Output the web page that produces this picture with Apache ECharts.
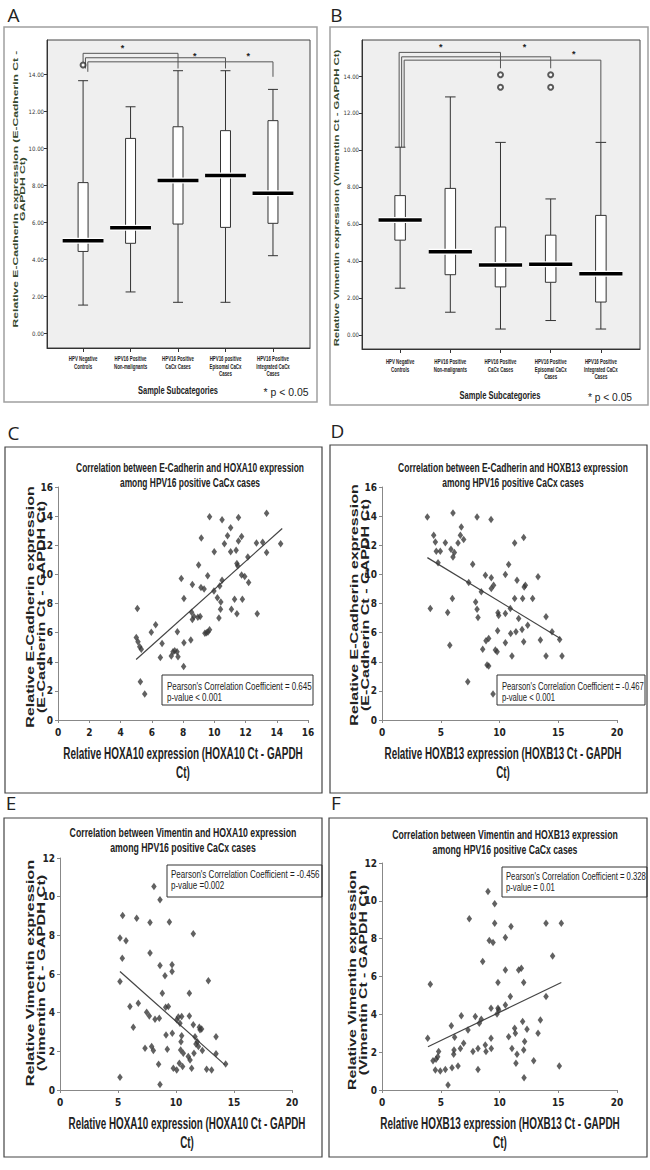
<!DOCTYPE html>
<html><head><meta charset="utf-8">
<script src="https://cdn.jsdelivr.net/npm/echarts@6/dist/echarts.min.js"></script>
<style>html,body{margin:0;padding:0;background:#fff}#c{width:650px;height:1170px}</style>
</head><body><div id="c"></div>
<script>
// ---------------- DATA ----------------
const catsA = ['HPV Negative\nControls','HPV16 Positive\nNon-malignants','HPV16 Positive\nCaCx Cases','HPV16 positive\nEpisomal CaCx\nCases','HPV16 Positive\nIntegrated CaCx\nCases'];
const catsB = ['HPV Negative\nControls','HPV16 Positive\nNon-malignants','HPV16 Positive\nCaCx Cases','HPV16 Positive\nEpisomal CaCx\nCases','HPV16 Positive\nIntegrated CaCx\nCases'];
const boxTicks = [0,2,4,6,8,10,12,14];
const catTicks = [0,1,2,3,4];
// [min, q1, median, q3, max]
const boxStatsA = [[1.51,4.41,4.99,8.13,13.64],[2.22,4.85,5.69,10.52,12.23],[1.66,5.89,8.25,11.15,14.18],[1.66,5.71,8.52,10.94,14.18],[4.18,5.93,7.55,11.48,13.17]];
const outliersA = [[0,14.49]];
const boxStatsB = [[2.52,5.12,6.21,7.53,10.15],[1.22,3.25,4.49,7.92,12.87],[0.31,2.59,3.78,5.83,10.41],[0.77,2.84,3.82,5.39,7.35],[0.31,1.77,3.30,6.46,10.41]];
const outliersB = [[2,14.07],[2,13.39],[3,14.07],[3,13.39]];
// significance brackets: [xLeft, xRight, level, leftEnd, rightEnd]
const bracketsA = [[0,2,15.12,14.64,14.3],[0.05,3,14.88,14.3,14.3],[0.1,4,14.66,14.12,13.85]];
const starsA = [[0.83,15.39],[2.35,14.99],[3.48,14.99]];
const bracketsB = [[-0.02,2,15.28,10.15,14.42],[0.03,3,15.04,10.15,14.42],[0.08,4,14.86,10.15,10.41]];
const starsB = [[0.81,15.58],[2.48,15.58],[3.46,15.19]];

const scatterC = [[5.08,7.66],[5.01,5.67],[5.12,5.37],[5.23,5.03],[5.33,4.85],[5.27,2.63],[5.55,1.78],
 [5.97,6.03],[6.25,6.54],[6.66,5.26],[6.55,4.30],
 [7.25,4.39],[7.36,4.69],[7.47,4.75],[7.62,4.69],[7.68,4.34],[7.64,6.06],
 [7.89,9.71],[8.06,8.35],[8.06,5.3],[8.04,3.68],
 [8.5,5.5],[8.55,7.4],[8.6,9.3],[8.6,6.9],[8.7,7.1],[8.95,7.05],[9.1,7.1],
 [9.0,10.65],[9.17,12.5],[9.15,9.1],[9.35,9.0],
 [9.4,5.95],[9.5,6.0],[9.6,6.05],[9.7,6.2],[9.58,9.9],[9.7,13.95],
 [9.98,8.85],[10.0,11.55],[10.2,8.4],[10.3,7.0],[10.35,9.2],[10.4,7.6],[10.42,8.1],[10.5,9.6],[10.5,13.75],[10.65,12.1],
 [10.85,12.65],[11.05,13.2],[11.05,11.55],[11.1,7.6],[11.3,8.3],
 [11.4,11.65],[11.45,10.75],[11.5,10.6],[11.45,7.3],[11.55,13.9],[11.55,12.3],[11.75,12.6],[11.75,9.95],[11.8,8.3],[11.95,9.85],[12.15,11.2],[12.2,9.45],
 [12.7,12.15],[12.75,7.3],[13.1,12.2],[13.35,14.2],[13.35,11.5],[14.25,12.1]];
const trendC = [[5.0,4.15],[14.35,13.15]];

const scatterD = [[3.86,13.94],[4.11,7.66],[4.40,12.69],[4.54,12.23],[4.62,11.59],[4.77,10.79],[4.96,11.59],
 [5.39,12.18],[5.59,7.38],[5.77,5.14],[5.87,11.73],[5.99,8.34],[6.04,14.22],[6.04,11.2],[6.16,11.5],
 [6.47,12.16],[6.67,12.69],[6.75,13.26],[6.95,12.39],[7.38,9.44],[7.3,2.63],
 [7.72,10.7],[7.97,8.11],[8.09,7.61],[8.17,7.04],[8.09,13.94],[8.45,8.8],[8.57,4.85],[8.8,9.94],[8.85,5.44],
 [8.94,3.77],[9.08,3.7],[9.08,5.6],[9.28,13.76],[9.3,9.76],[9.3,9.03],[9.5,9.26],[9.45,1.78],
 [9.65,4.8],[9.8,4.69],[9.84,6.13],[9.87,7.36],[9.93,7.18],
 [10.5,10.0],[10.5,7.31],[10.5,5.3],[10.78,10.67],[10.92,7.66],[10.95,5.94],[11.06,4.39],
 [11.29,12.16],[11.29,8.34],[11.4,6.06],[11.49,9.6],[11.63,6.97],[11.92,6.22],[11.97,8.34],
 [12.06,12.53],[12.06,5.37],[12.1,9.14],[12.2,9.26],[12.4,6.51],[12.82,8.34],[13.28,9.83],
 [13.48,5.49],[13.96,7.09],[13.96,4.39],[14.47,6.06],[15.12,5.53],[15.32,4.39]];
const trendD = [[3.86,11.15],[15.18,5.6]];

const scatterE = [[5.17,0.66],[5.17,5.61],[5.17,7.86],[5.37,6.82],[5.40,9.03],[5.69,7.72],[6.03,4.32],[6.32,3.25],
 [6.61,8.89],[6.75,4.49],[7.33,2.16],[7.47,4.02],[7.70,3.83],[7.76,7.08],[7.76,8.67],[7.90,2.25],[8.05,2.04],
 [8.10,10.53],[8.19,3.66],[8.5,1.33],[8.56,3.71],[8.62,6.44],[8.62,0.29],[8.62,9.84],[8.82,5.01],[9.05,5.91],
 [9.11,4.28],[9.14,2.85],[9.25,2.11],[9.34,4.32],[9.43,8.69],[9.66,6.48],[9.66,6.13],[9.68,2.94],[9.77,1.12],
 [10.06,1.04],[10.06,3.63],[10.2,3.77],[10.29,1.38],[10.34,3.45],[10.4,2.07],[10.43,2.5],[10.49,3.8],[10.49,2.8],
 [10.57,1.21],[10.63,1.9],[11.06,1.73],[11.15,5.01],[11.15,3.83],[11.21,1.55],[11.35,1.12],[11.49,8.08],
 [11.49,3.37],[11.55,1.9],[11.64,2.76],[11.72,2.38],[11.84,2.5],[11.93,2.25],[12.01,3.25],[12.07,3.11],
 [12.21,3.16],[12.27,2.04],[12.64,1.07],[12.79,5.65],[13.07,1.04],[13.45,2.76],[13.45,1.87],[14.28,1.35]];
const trendE = [[5.17,6.13],[14.22,1.3]];

const scatterF = [[3.89,2.73],[4.11,5.59],[4.34,1.55],[4.54,1.06],[4.6,1.62],[4.74,1.76],[4.82,2.03],[4.96,1.01],
 [5.39,1.09],[5.62,0.26],[5.9,3.39],[5.96,1.18],[6.1,1.89],[6.13,2.12],[6.18,2.79],[6.47,1.27],[6.67,2.2],
 [6.75,3.92],[6.95,2.47],[7.32,3.17],[7.43,9.05],[7.74,2.03],[7.94,3.88],[8.17,1.09],[8.17,2.2],[8.28,3.53],
 [8.45,3.74],[8.57,6.79],[8.79,2.38],[8.85,2.03],[9.02,10.49],[9.13,7.9],[9.28,4.32],[9.28,2.73],[9.3,2.2],
 [9.45,7.8],[9.59,8.82],[9.59,9.84],[9.79,4.02],[9.87,4.32],[9.87,5.68],[9.93,4.23],[10.5,8.06],[10.5,6.35],
 [10.5,4.5],[10.78,2.82],[10.92,4.94],[10.98,8.64],[11.06,2.2],[11.29,3.26],[11.35,3.0],[11.4,1.41],[11.49,1.89],
 [11.63,6.35],[11.86,6.44],[11.97,3.62],[12.06,5.68],[12.06,2.12],[12.09,0.65],[12.14,2.56],[12.34,3.21],
 [12.91,1.55],[13.28,3.0],[13.48,3.7],[13.96,8.82],[13.96,4.94],[14.52,7.09],[15.09,1.27],[15.26,8.82]];
const trendF = [[3.91,2.29],[15.26,5.68]];

// ---------------- HELPERS ----------------
const SANS = "'Liberation Sans', Arial, Helvetica, sans-serif";
const NARROW = "'Liberation Sans Narrow','DejaVu Sans Condensed','Liberation Sans',sans-serif";
const _ctx = document.createElement('canvas').getContext('2d');
function fit(text, size, weight, w) {
  _ctx.font = weight + ' ' + size + 'px ' + SANS;
  const m = Math.max.apply(null, text.split('\n').map(s => _ctx.measureText(s).width));
  return w / m;
}
function T(text, x, y, o) {
  o = o || {};
  const size = o.size || 10, weight = o.weight || 'normal', align = o.align || 'center';
  return {
    type: 'text', x: x, y: y, rotation: o.rot || 0, z: 100,
    scaleX: o.w ? fit(text, size, weight, o.w) : (o.sx || 1), scaleY: o.sy || 1,
    style: { text: text, fontSize: size, fontWeight: weight, fontFamily: o.family || SANS, fill: o.color || '#222',
      align: align, textAlign: align, verticalAlign: 'middle', textVerticalAlign: 'middle', lineHeight: o.lh || Math.round(size * 1.15) }
  };
}
function R(x, y, w, h, stroke, lw) {
  return { type: 'rect', shape: { x: x, y: y, width: w, height: h }, style: { fill: 'none', stroke: stroke, lineWidth: lw }, z: 90 };
}

function renderBox(params, api) {
  const x = api.value(0);
  const v = [1, 2, 3, 4, 5].map(k => api.coord([x, api.value(k)]));
  const cx = v[0][0];
  const hw = api.size([0.105, 0])[0], mw = api.size([0.43, 0])[0];
  const st = { stroke: '#333', lineWidth: 1, fill: 'none' };
  const L = (x1, y1, x2, y2, s) => ({ type: 'line', shape: { x1, y1, x2, y2 }, style: s || st });
  return { type: 'group', children: [
    L(cx, v[4][1], cx, v[3][1]), L(cx, v[1][1], cx, v[0][1]),
    L(cx - hw, v[4][1], cx + hw, v[4][1]), L(cx - hw, v[0][1], cx + hw, v[0][1]),
    { type: 'rect', shape: { x: cx - hw, y: v[3][1], width: 2 * hw, height: v[1][1] - v[3][1] }, style: { fill: '#fff', stroke: '#333', lineWidth: 1 } },
    L(cx - mw, v[2][1], cx + mw, v[2][1], { stroke: '#fff', lineWidth: 6 }),
    L(cx - mw, v[2][1], cx + mw, v[2][1], { stroke: '#000', lineWidth: 3.5 })
  ] };
}
function renderBracket(params, api) {
  const xl = api.value(0), xr = api.value(1), lv = api.value(2), le = api.value(3), re = api.value(4);
  const pts = [[xl, le], [xl, lv], [xr, lv], [xr, re]].map(p => api.coord(p));
  return { type: 'polyline', shape: { points: pts }, style: { fill: 'none', stroke: '#555', lineWidth: 1 } };
}
function renderStar(params, api) {
  const p = api.coord([api.value(0), api.value(1)]);
  return { type: 'text', x: p[0], y: p[1], style: { text: '*', fontSize: 9, fontWeight: 'bold', fontFamily: SANS, fill: '#222', align: 'center', verticalAlign: 'middle' } };
}
function catLabelRenderer(cats, offset) {
  const sx = fit('HPV16 Positive', 7.5, 'bold', 32);
  return function (params, api) {
    const p = api.coord([api.value(0), api.value(1)]);
    return { type: 'text', x: p[0], y: p[1] + offset, scaleX: sx, scaleY: 0.95,
      style: { text: cats[params.dataIndex], fontSize: 7.5, fontWeight: 'bold', fontFamily: SANS, fill: '#222',
        align: 'center', verticalAlign: 'top', lineHeight: 8 } };
  };
}

// axis ranges (layout)
const yMinA = -0.81, yMaxA = 15.84, yMinB = -0.77, yMaxB = 15.95;

function boxX(grid) {
  return { type: 'value', gridIndex: grid, min: -0.76, max: 4.78,
    axisLine: { show: true, onZero: false, lineStyle: { color: '#333', width: 1 } },
    axisTick: { show: true, customValues: catTicks, length: 4, lineStyle: { color: '#333' } },
    axisLabel: { show: false, customValues: catTicks }, splitLine: { show: false } };
}
function boxY(grid, mn, mx) {
  return { type: 'value', gridIndex: grid, min: mn, max: mx,
    axisLine: { show: true, onZero: false, lineStyle: { color: '#333', width: 1 } },
    axisTick: { show: true, customValues: boxTicks, length: 3, lineStyle: { color: '#333' } },
    axisLabel: { customValues: boxTicks, formatter: v => v.toFixed(2), fontSize: 6, fontFamily: NARROW, color: '#333', margin: 3 },
    splitLine: { show: false } };
}
function scX(grid, max, interval) {
  return { type: 'value', gridIndex: grid, min: 0, max: max, interval: interval,
    axisLine: { show: true, onZero: false, lineStyle: { color: '#888', width: 1 } },
    axisTick: { show: true, length: 3, lineStyle: { color: '#888' } },
    axisLabel: { fontSize: 10, fontWeight: 'bold', fontFamily: NARROW, color: '#222', margin: 7 },
    splitLine: { show: false } };
}
function scY(grid, max, interval) {
  return { type: 'value', gridIndex: grid, min: 0, max: max, interval: interval,
    axisLine: { show: true, onZero: false, lineStyle: { color: '#888', width: 1 } },
    axisTick: { show: true, length: 3, lineStyle: { color: '#888' } },
    axisLabel: { fontSize: 10, fontWeight: 'bold', fontFamily: NARROW, color: '#222', margin: 5 },
    splitLine: { show: false } };
}
function scSeries(idx, pts, trend) {
  return [
    { type: 'scatter', xAxisIndex: idx, yAxisIndex: idx, data: pts, symbol: 'diamond', symbolSize: [5.5, 7.5],
      itemStyle: { color: '#3a3a3a' }, z: 3 },
    { type: 'line', xAxisIndex: idx, yAxisIndex: idx, data: trend, symbol: 'none',
      lineStyle: { color: '#444', width: 1.2 }, z: 2 }
  ];
}

const TITLE_C = 'Correlation between E-Cadherin and HOXA10 expression\namong HPV16 positive CaCx cases';
const TITLE_D = 'Correlation between E-Cadherin and HOXB13 expression\namong HPV16 positive CaCx cases';
const TITLE_E = 'Correlation between Vimentin and HOXA10 expression\namong HPV16 positive CaCx cases';
const TITLE_F = 'Correlation between Vimentin and HOXB13 expression\namong HPV16 positive CaCx cases';
const GREEN = '#34482c';
const OUT = { color: '#333', borderColor: '#333', borderWidth: 1 };

const option = {
  animation: false,
  backgroundColor: '#fff',
  grid: [
    { left: 47, top: 40, width: 263, height: 308, show: true, backgroundColor: '#efefef', borderColor: '#444', borderWidth: 1 },
    { left: 362, top: 40, width: 278, height: 309, show: true, backgroundColor: '#efefef', borderColor: '#444', borderWidth: 1 },
    { left: 58, top: 487, width: 250, height: 233 },
    { left: 382, top: 487, width: 235, height: 233 },
    { left: 60, top: 858, width: 232, height: 232 },
    { left: 382, top: 863, width: 235, height: 227 }
  ],
  xAxis: [boxX(0), boxX(1), scX(2, 16, 2), scX(3, 20, 5), scX(4, 20, 5), scX(5, 20, 5)],
  yAxis: [boxY(0, yMinA, yMaxA), boxY(1, yMinB, yMaxB), scY(2, 16, 2), scY(3, 16, 2), scY(4, 12, 2), scY(5, 12, 2)],
  series: [
    { type: 'custom', xAxisIndex: 0, yAxisIndex: 0, data: boxStatsA.map((s, i) => [i].concat(s)), encode: { x: 0, y: [1, 2, 3, 4, 5] }, renderItem: renderBox, z: 3 },
    { type: 'scatter', xAxisIndex: 0, yAxisIndex: 0, data: outliersA, symbol: 'emptyCircle', symbolSize: 5, itemStyle: OUT, z: 4 },
    { type: 'custom', xAxisIndex: 0, yAxisIndex: 0, data: bracketsA, encode: { x: [0, 1], y: [2, 3, 4] }, renderItem: renderBracket, z: 2 },
    { type: 'custom', xAxisIndex: 0, yAxisIndex: 0, data: starsA, encode: { x: 0, y: 1 }, renderItem: renderStar, z: 4 },
    { type: 'custom', xAxisIndex: 0, yAxisIndex: 0, data: catTicks.map(i => [i, yMinA]), encode: { x: 0, y: 1 }, renderItem: catLabelRenderer(catsA, 7), clip: false, z: 4 },

    { type: 'custom', xAxisIndex: 1, yAxisIndex: 1, data: boxStatsB.map((s, i) => [i].concat(s)), encode: { x: 0, y: [1, 2, 3, 4, 5] }, renderItem: renderBox, z: 3 },
    { type: 'scatter', xAxisIndex: 1, yAxisIndex: 1, data: outliersB, symbol: 'emptyCircle', symbolSize: 5, itemStyle: OUT, z: 4 },
    { type: 'custom', xAxisIndex: 1, yAxisIndex: 1, data: bracketsB, encode: { x: [0, 1], y: [2, 3, 4] }, renderItem: renderBracket, z: 2 },
    { type: 'custom', xAxisIndex: 1, yAxisIndex: 1, data: starsB, encode: { x: 0, y: 1 }, renderItem: renderStar, z: 4 },
    { type: 'custom', xAxisIndex: 1, yAxisIndex: 1, data: catTicks.map(i => [i, yMinB]), encode: { x: 0, y: 1 }, renderItem: catLabelRenderer(catsB, 9), clip: false, z: 4 }
  ].concat(scSeries(2, scatterC, trendC), scSeries(3, scatterD, trendD), scSeries(4, scatterE, trendE), scSeries(5, scatterF, trendF)),
  graphic: { elements: [
    R(4, 27, 313, 375, '#a0a0a0', 1.5), R(330, 27, 318, 378, '#a0a0a0', 1.5),
    R(5, 447, 317, 346, '#444', 1.2), R(330, 445, 317, 348, '#444', 1.2),
    R(4, 818, 318, 339, '#444', 1.2), R(329, 818, 318, 339, '#444', 1.2),
    T('A', 13.5, 15, { size: 19, family: "'Open Sans', sans-serif" }),
    T('B', 336.5, 15, { size: 19, family: "'Open Sans', sans-serif" }),
    T('C', 13.5, 433, { size: 19, family: "'Open Sans', sans-serif" }),
    T('D', 337.5, 431, { size: 19, family: "'Open Sans', sans-serif" }),
    T('E', 11, 803, { size: 19, family: "'Open Sans', sans-serif" }),
    T('F', 336, 803, { size: 19, family: "'Open Sans', sans-serif" }),
    // A / B titles
    T('Relative E-Cadherin expression (E-Cadherin Ct -\nGAPDH Ct)', 18.7, 189, { size: 9.5, weight: 'bold', w: 277, sy: 0.8, lh: 9, rot: Math.PI / 2, color: GREEN }),
    T('Relative Vimentin expression (Vimentin Ct - GAPDH Ct)', 336, 198, { size: 9.5, weight: 'bold', w: 297, sy: 0.8, rot: Math.PI / 2, color: GREEN }),
    T('Sample Subcategories', 178, 391, { size: 10, weight: 'bold', w: 80 }),
    T('* p < 0.05', 286, 392, { size: 11, w: 45 }),
    T('Sample Subcategories', 500, 396, { size: 10, weight: 'bold', w: 81 }),
    T('* p < 0.05', 610, 397, { size: 11, w: 44 }),
    // scatter titles
    T(TITLE_C, 190, 474.5, { size: 13.5, weight: 'bold', w: 228, lh: 15 }),
    T(TITLE_D, 513, 474.5, { size: 13.5, weight: 'bold', w: 230, lh: 15 }),
    T(TITLE_E, 183, 840, { size: 13.5, weight: 'bold', w: 227, lh: 15 }),
    T(TITLE_F, 505, 842, { size: 13.5, weight: 'bold', w: 226, lh: 15 }),
    // x titles
    T('Relative HOXA10 expression (HOXA10 Ct - GAPDH\nCt)', 183, 762.5, { size: 17, weight: 'bold', w: 240, lh: 19 }),
    T('Relative HOXB13 expression (HOXB13 Ct - GAPDH\nCt)', 503, 762.5, { size: 17, weight: 'bold', w: 237, lh: 19 }),
    T('Relative HOXA10 expression (HOXA10 Ct - GAPDH\nCt)', 187, 1132.5, { size: 17, weight: 'bold', w: 237, lh: 19 }),
    T('Relative HOXB13 expression (HOXB13 Ct - GAPDH\nCt)', 500, 1132.5, { size: 17, weight: 'bold', w: 240, lh: 19 }),
    // y titles
    T('Relative E-Cadherin expression\n(E-Cadherin Ct - GAPDH Ct)', 35, 607, { size: 16, weight: 'bold', w: 242, sy: 0.72, lh: 15, rot: Math.PI / 2 }),
    T('Relative E-Cadherin expression\n(E-Cadherin Ct - GAPDH Ct)', 359.5, 605, { size: 16, weight: 'bold', w: 242, sy: 0.72, lh: 15, rot: Math.PI / 2 }),
    T('Relative Vimentin expression\n(Vimentin Ct - GAPDH Ct)', 35.5, 973, { size: 16, weight: 'bold', w: 227, sy: 0.72, lh: 15, rot: Math.PI / 2 }),
    T('Relative Vimentin expression\n(Vimentin Ct - GAPDH Ct)', 357, 980, { size: 16, weight: 'bold', w: 220, sy: 0.72, lh: 15, rot: Math.PI / 2 }),
    // Pearson boxes
    R(162, 675, 151, 30, '#333', 1),
    T("Pearson's Correlation Coefficient = 0.645\np-value < 0.001", 167, 692.5, { size: 10, w: 145, lh: 11, align: 'left' }),
    R(497, 675, 148, 30, '#333', 1),
    T("Pearson's Correlation Coefficient = -0.467\np-value < 0.001", 502, 692.5, { size: 10, w: 142, lh: 11, align: 'left' }),
    R(167, 865, 155, 32, '#333', 1),
    T("Pearson's Correlation Coefficient = -0.456\np-value =0.002", 171, 880.5, { size: 10, w: 149, lh: 11, align: 'left' }),
    R(502, 867, 145, 30, '#333', 1),
    T("Pearson's Correlation Coefficient = 0.328\np-value = 0.01", 506, 882, { size: 10, w: 140, lh: 11, align: 'left' })
  ] }
};
const chart = echarts.init(document.getElementById('c'), null, { renderer: 'svg', width: 650, height: 1170 });
chart.setOption(option);
</script>
</body></html>
